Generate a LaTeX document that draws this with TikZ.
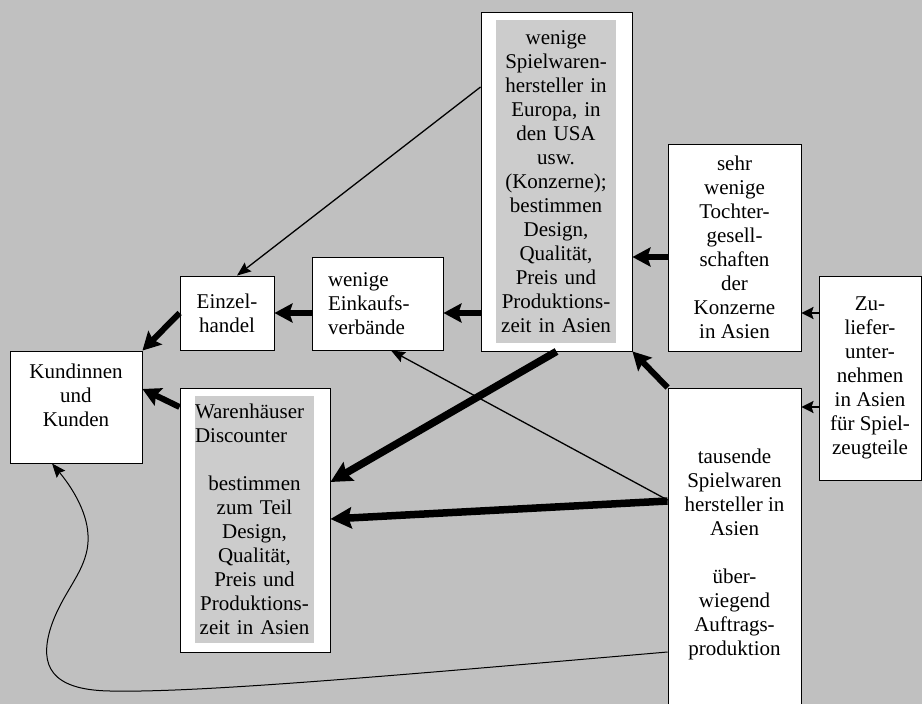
\documentclass[tikz,border=0pt]{standalone}
\usepackage{fontspec}
\setmainfont{Liberation Serif}
\usetikzlibrary{arrows.meta}
\definecolor{bggrey}{RGB}{192,192,192}
\definecolor{fieldgrey}{RGB}{204,204,204}

\begin{document}
\begin{tikzpicture}[x=1pt, y=-1pt,
    font=\fontsize{21}{24}\selectfont,
    box/.style={draw=black, line width=0.9pt, fill=white, inner sep=0pt, align=center},
    field/.style={fill=fieldgrey, inner sep=0pt, align=center, text width=#1},
    slim/.style={line width=1.3pt, -{Stealth[length=14pt, width=11pt, inset=2pt]}},
    mid/.style={line width=2.2pt, -{Stealth[length=12pt, width=12pt, inset=2pt]}},
    fat/.style={line width=6pt, -{Stealth[length=18pt, width=19pt, inset=3pt]}},
    vfat/.style={line width=7.5pt, -{Stealth[length=21pt, width=21pt, inset=3pt]}}]

    % Background
    \path[use as bounding box, fill=bggrey] (0,0) rectangle (922,704);
    \clip (0,0) rectangle (922,704);

    % Customers and trade
    \node[box, minimum width=132pt, minimum height=112pt] (kunden) at (76,407)
        {Kundinnen\\und\\Kunden\\\mbox{}};
    \node[box, minimum width=94pt, minimum height=74pt] (einzel) at (227,313)
        {Einzel-\\handel};
    \node[box, align=left, text width=99pt, minimum width=131pt, minimum height=93pt] (einkauf) at (377.5,303.5)
        {wenige\\Einkaufs-\\verbände};
    \node[box, minimum width=150pt, minimum height=264pt] (waren) at (255,520) {};
    \node[field=119pt, minimum height=247pt] (warentext) at (254.5,519.5)
        {\makebox[119pt][l]{Warenhäuser}\\\makebox[119pt][l]{Discounter}\\[24pt]
         bestimmen\\zum Teil\\Design,\\Qualität,\\Preis und\\Produktions-\\zeit in Asien};

    % Manufacturers
    \node[box, minimum width=151pt, minimum height=339pt] (konz) at (556.5,181.5) {};
    \node[field=120pt, minimum height=323pt] (konztext) at (556,181.5)
        {wenige\\Spielwaren-\\hersteller in\\Europa, in\\den USA\\usw.\\(Konzerne);\\bestimmen\\Design,\\Qualität,\\Preis und\\Produktions-\\zeit in Asien};
    \node[box, minimum width=133pt, minimum height=207pt] (tochter) at (734.5,247.5)
        {sehr\\wenige\\Tochter-\\gesell-\\schaften\\der\\Konzerne\\in Asien};
    \node[box, minimum width=102pt, minimum height=204pt] (zuliefer) at (870,378)
        {Zu-\\liefer-\\unter-\\nehmen\\in Asien\\für Spiel-\\zeugteile};
    \node[box, minimum width=133pt, minimum height=332pt] (tausend) at (734.5,554)
        {tausende\\Spielwaren\\hersteller in\\Asien\\[24pt]über-\\wiegend\\Auftrags-\\produktion};

    % Flows towards the customers
    \draw[fat] (einkauf.west |- einzel) -- (einzel.east);
    \draw[fat] (konz.west |- einzel) -- (einkauf.east |- einzel);
    \draw[fat] (einzel.west) -- (kunden.north east);
    \draw[fat] (waren.west |- 0,407) -- (kunden.east |- 0,389);
    \draw[slim] (konz.west |- 0,87) -- (einzel.north -| 237,0);

    % Flows from Asia
    \draw[fat] (tochter.west |- 0,257) -- (konz.east |- 0,257);
    \draw[mid] (zuliefer.west |- 0,313) -- (tochter.east |- 0,313);
    \draw[mid] (zuliefer.west |- 0,407) -- (tausend.east |- 0,407);
    \draw[fat] (tausend.north west) -- (konz.south east);
    \draw[vfat] (konz.south) -- (waren.east |- 0,482);
    \draw[vfat] (tausend.west |- 0,501) -- (waren.east |- 0,519);
    \draw[slim] (tausend.west |- 0,500) -- (einkauf.south -| 391,0);

    % Direct sale
    \draw[slim, line width=1pt] (tausend.west |- 0,652)
        .. controls (400,675) and (200,693) .. (110,691)
        .. controls (50,690) and (40,665) .. (50,630)
        .. controls (62,590) and (90,570) .. (88,535)
        .. controls (87,510) and (70,485) .. (kunden.south -| 52,0);
\end{tikzpicture}
\end{document}
